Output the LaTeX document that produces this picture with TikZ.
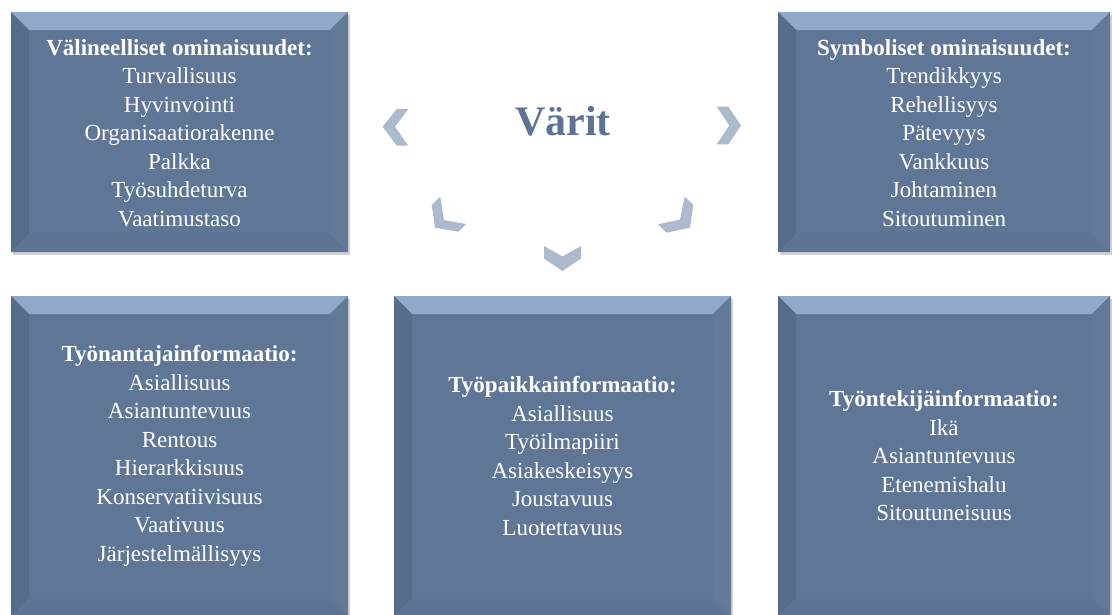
\documentclass[tikz,border=0pt]{standalone}
\usepackage{fontspec}
\newfontfamily\panelserif{Liberation Serif}
\definecolor{boxface}{HTML}{5F7697}
\definecolor{bevtop}{HTML}{91A9C9}
\definecolor{bevleft}{HTML}{566C8B}
\definecolor{bevright}{HTML}{627A9A}
\definecolor{bevbottom}{HTML}{5D7495}
\definecolor{chevron}{HTML}{ADB9CD}
\definecolor{titleblue}{HTML}{5E7394}
\tikzset{
  boxtext/.style={align=center, text=white, inner sep=0pt,
    font=\panelserif\fontsize{23}{28.5}\selectfont},
  chev/.style={fill=chevron, draw=none},
  title/.style={text=titleblue, inner sep=0pt,
    font=\panelserif\fontsize{42}{48}\selectfont\bfseries}
}
% bevelled panel: left x, top y, right x, bottom y (pixel units, y downward)
\newcommand{\bevelpanel}[4]{%
  \fill[black!18] (#1+2,#2+3) rectangle (#3+2,#4+3);
  \fill[boxface] (#1,#2) rectangle (#3,#4);
  \fill[bevtop] (#1,#2) -- (#3,#2) -- (#3-18,#2+18) -- (#1+18,#2+18) -- cycle;
  \fill[bevleft] (#1,#2) -- (#1+18,#2+18) -- (#1+18,#4-18) -- (#1,#4) -- cycle;
  \fill[bevright] (#3,#2) -- (#3,#4) -- (#3-18,#4-18) -- (#3-18,#2+18) -- cycle;
  \fill[bevbottom] (#1,#4) -- (#1+18,#4-18) -- (#3-18,#4-18) -- (#3,#4) -- cycle;
}
\begin{document}
\begin{tikzpicture}[x=1pt,y=-1pt]
\useasboundingbox (0,0) rectangle (1112,614);
\clip (0,0) rectangle (1112,614);
\fill[white] (0,0) rectangle (1112,614);

% panels
\bevelpanel{11}{12}{348}{252}
\bevelpanel{778}{12}{1110}{252}
\bevelpanel{11}{296}{348}{616}
\bevelpanel{394}{296}{731}{616}
\bevelpanel{778}{296}{1110}{616}

% panel texts
\node[boxtext] (valineelliset) at (179.5,133) {\textbf{Välineelliset ominaisuudet:}\\Turvallisuus\\Hyvinvointi\\Organisaatiorakenne\\Palkka\\Työsuhdeturva\\Vaatimustaso};
\node[boxtext] (symboliset) at (944,133) {\textbf{Symboliset ominaisuudet:}\\Trendikkyys\\Rehellisyys\\Pätevyys\\Vankkuus\\Johtaminen\\Sitoutuminen};
\node[boxtext] (tyonantaja) at (179.5,456) {\textbf{Työnantajainformaatio:}\\Asiallisuus\\Asiantuntevuus\\Rentous\\Hierarkkisuus\\Konservatiivisuus\\Vaativuus\\Järjestelmällisyys};
\node[boxtext] (tyopaikka) at (562.5,456) {\textbf{Työpaikkainformaatio:}\\Asiallisuus\\Työilmapiiri\\Asiakeskeisyys\\Joustavuus\\Luotettavuus};
\node[boxtext] (tyontekija) at (944,456) {\textbf{Työntekijäinformaatio:}\\Ikä\\Asiantuntevuus\\Etenemishalu\\Sitoutuneisuus};

% centre title
\node[title] (varit) at (563,121) {Värit};

% chevrons around the title
\fill[chev] (382.7,126.7) -- (396.7,109) -- (408.3,109) -- (395,126.7) -- (408.3,145.7) -- (396.7,145.7) -- cycle;
\fill[chev] (741,125.5) -- (728.3,106.7) -- (716.7,106.7) -- (729.3,125.5) -- (716.7,144.3) -- (728.3,144.3) -- cycle;
\fill[chev] (440.3,196.7) -- (431.7,205) -- (435,227.7) -- (458.3,231.7) -- (466,224) -- (444,220) -- cycle;
\fill[chev] (684.7,196.7) -- (693.3,205) -- (690,227.7) -- (666.7,232.7) -- (658.3,224.3) -- (680,219.5) -- cycle;
\fill[chev] (544,246) -- (562.5,256.5) -- (581,246) -- (581,258.5) -- (562.5,271) -- (544,258.5) -- cycle;
\end{tikzpicture}
\end{document}
